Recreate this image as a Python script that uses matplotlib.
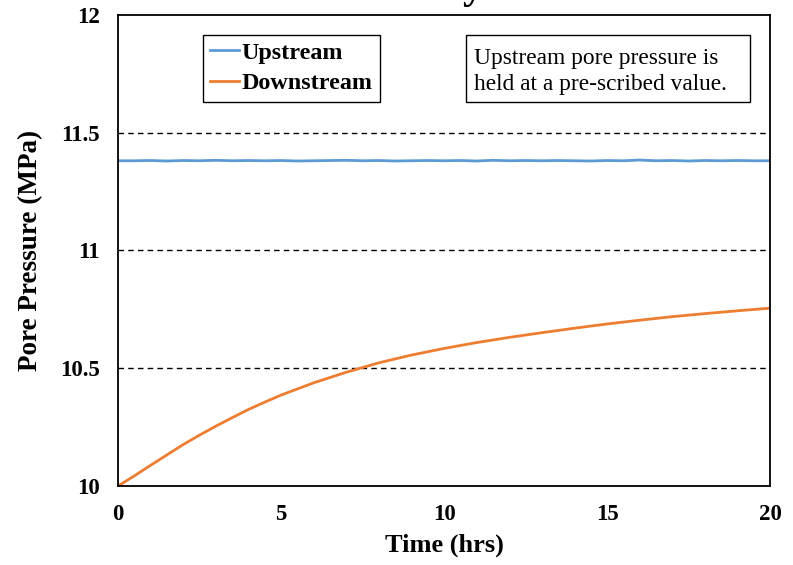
import matplotlib
matplotlib.use("Agg")
import matplotlib.pyplot as plt
from matplotlib.patches import Rectangle
import numpy as np

plt.rcParams['font.family'] = ['Liberation Serif', 'DejaVu Serif']

# upstream pressure, sampled every half hour (held near constant)
t_up = np.arange(0, 20.5, 0.5)
p_up = [11.381, 11.381, 11.382, 11.380, 11.382, 11.381, 11.383, 11.381, 11.382, 11.381,
        11.382, 11.380, 11.381, 11.382, 11.383, 11.381, 11.382, 11.380, 11.381, 11.382,
        11.381, 11.382, 11.380, 11.383, 11.381, 11.382, 11.381, 11.382, 11.381, 11.380,
        11.382, 11.381, 11.384, 11.381, 11.382, 11.380, 11.382, 11.381, 11.382, 11.381,
        11.381]

# downstream pressure build-up
t_down = [0, 0.5, 1, 1.5, 2, 2.5, 3, 3.5, 4, 4.5, 5, 6, 7, 8, 9, 10, 11, 12, 13, 14,
          15, 16, 17, 18, 19, 20]
p_down = [10.0, 10.043, 10.088, 10.132, 10.176, 10.216, 10.254, 10.290, 10.325, 10.356,
          10.386, 10.438, 10.483, 10.523, 10.556, 10.584, 10.609, 10.631, 10.651, 10.670,
          10.688, 10.704, 10.719, 10.732, 10.744, 10.755]

xticks = [0, 5, 10, 15, 20]
yticks = [10, 10.5, 11, 11.5, 12]
yticklabels = ['10', '10.5', '11', '11.5', '12']

fig = plt.figure(figsize=(7.93, 5.65), dpi=100)
ax = fig.add_axes([0.1488, 0.1398, 0.8222, 0.8337])

ax.plot(t_up, p_up, color='#5b9bd5', lw=2, label='Upstream')
ax.plot(t_down, p_down, color='#ed7d31', lw=2, label='Downstream')

ax.set_xlim(0, 20)
ax.set_ylim(10, 12)
ax.set_xticks(xticks)
ax.set_yticks(yticks)
ax.set_yticklabels(yticklabels)
ax.tick_params(length=0, labelsize=16.5)
ax.tick_params(axis='x', pad=13)
ax.tick_params(axis='y', pad=13)
for lab in ax.get_xticklabels() + ax.get_yticklabels():
    lab.set_fontweight('bold')

for y in [10.5, 11, 11.5]:
    ax.axhline(y, color='black', lw=1, ls=(0, (4, 3)), zorder=0)

for s in ax.spines.values():
    s.set_linewidth(1.3)
    s.set_color('black')

ax.set_xlabel('Time (hrs)', fontsize=19, fontweight='bold', labelpad=6)
ax.set_ylabel('Pore Pressure (MPa)', fontsize=19.5, fontweight='bold', labelpad=12)

leg = ax.legend(loc='upper left', bbox_to_anchor=(0.13, 0.958), fancybox=False,
                framealpha=1, edgecolor='black', handlelength=1.2, handletextpad=0.1,
                borderpad=0.3, labelspacing=0.35, borderaxespad=0,
                prop={'weight': 'bold', 'size': 17.4})
leg.get_frame().set_linewidth(1)

# note box, frame drawn separately so it can be wider than the text
ax.add_patch(Rectangle((0.5337, 0.8163), 0.4356, 0.1413, transform=ax.transAxes,
                       fc='white', ec='black', lw=1, zorder=4))
ax.text(0.546, 0.929, 'Upstream pore pressure is\nheld at a pre-scribed value.',
        transform=ax.transAxes, fontsize=16.8, va='top', ha='left', linespacing=1.26,
        zorder=5)

# title sitting above the top edge of the figure
fig.text(0.596, 1.0 + 2 / 565, 'y', fontsize=30, fontweight='bold',
         ha='center', va='baseline')

fig.savefig('out.png', dpi=100)
